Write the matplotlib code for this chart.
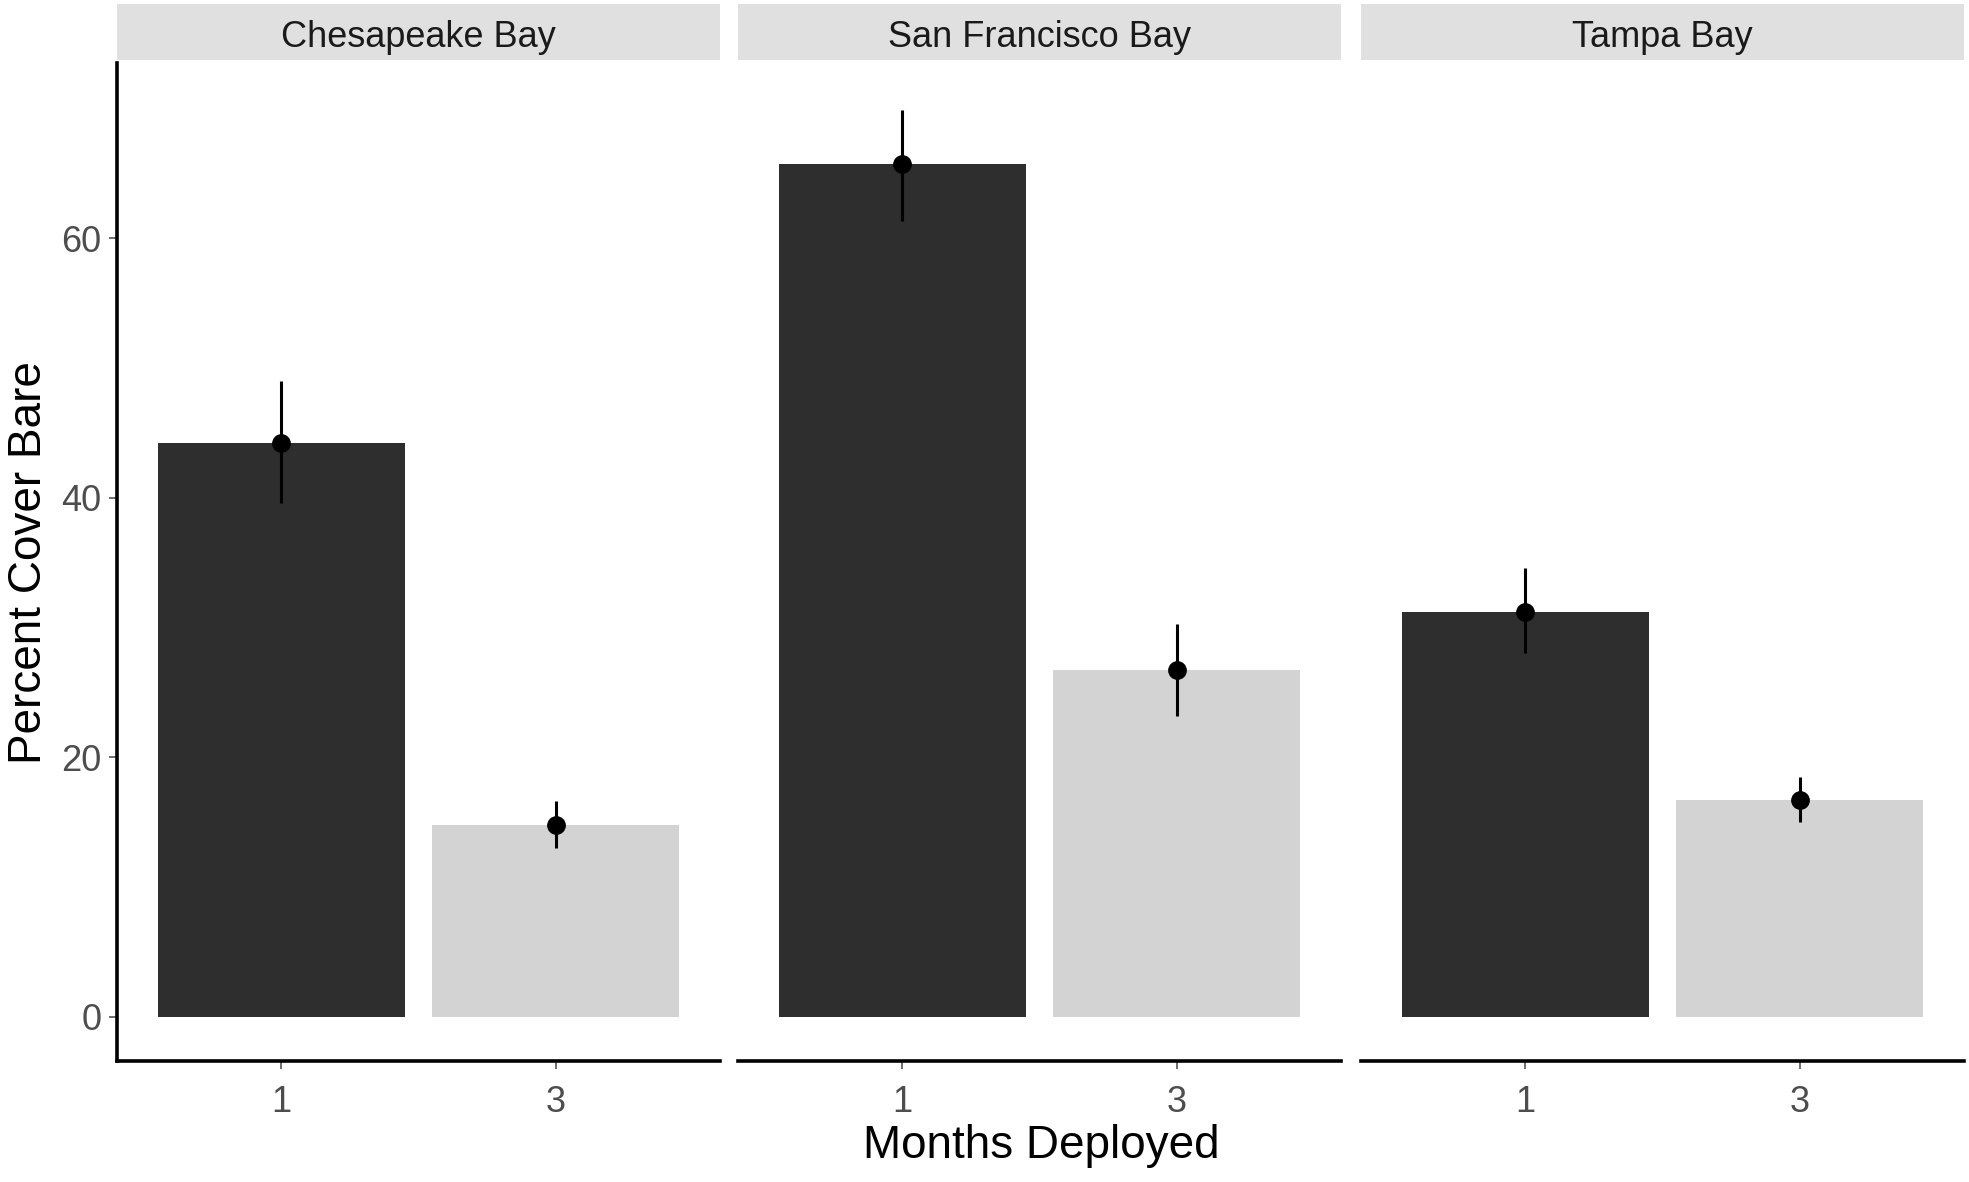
import matplotlib
matplotlib.use('Agg')
import matplotlib.pyplot as plt
from matplotlib import font_manager

# data
bays = ['Chesapeake Bay', 'San Francisco Bay', 'Tampa Bay']
months = ['1', '3']
mean_cover = [[44.2, 14.8], [65.7, 26.7], [31.2, 16.7]]
err_low = [[39.6, 13.0], [61.3, 23.2], [28.0, 15.0]]
err_high = [[49.0, 16.6], [69.9, 30.3], [34.6, 18.5]]
bar_colors = ['#2e2e2e', '#d3d3d3']
y_ticks = [0, 20, 40, 60]

names = {f.name for f in font_manager.fontManager.ttflist}
narrow = 'Liberation Sans Narrow' if 'Liberation Sans Narrow' in names else 'Liberation Sans'
plain = 'Liberation Sans'

fig = plt.figure(figsize=(19.69, 11.82), dpi=100)

W, H = 1969, 1182
lefts = [117, 738, 1361]
pw = 603
top, bottom = 63, 1061

for i, bay in enumerate(bays):
	ax = fig.add_axes([lefts[i]/W, 1-bottom/H, pw/W, (bottom-top)/H])
	xs = list(range(1, len(months)+1))
	ax.bar(xs, mean_cover[i], width=0.9, color=bar_colors, zorder=1)
	for j, x in enumerate(xs):
		ax.vlines(x, err_low[i][j], err_high[i][j], color='black', lw=2.2, zorder=3)
	ax.plot(xs, mean_cover[i], 'o', color='black', ms=12.5, zorder=4)
	ax.set_xlim(0.4, 2.6)
	ax.set_ylim(-3.4, 73.5)
	ax.set_xticks(xs)
	ax.set_xticklabels(months, fontsize=26, color='#4d4d4d', family=narrow)
	for s in ['top', 'right']:
		ax.spines[s].set_visible(False)
	ax.spines['bottom'].set_linewidth(2.6)
	ax.spines['left'].set_linewidth(2.6)
	ax.tick_params(axis='x', length=6, width=1.2, color='#555555', pad=11)
	if i == 0:
		ax.set_yticks(y_ticks)
		ax.set_yticklabels([str(v) for v in y_ticks], fontsize=26, color='#4d4d4d', family=narrow)
		ax.tick_params(axis='y', length=6, width=1.2, color='#555555', pad=5)
	else:
		ax.spines['left'].set_visible(False)
		ax.set_yticks([])

	# facet strip
	sx = fig.add_axes([lefts[i]/W, 1-60/H, pw/W, 56/H])
	sx.set_facecolor('#e0e0e0')
	sx.set_xticks([])
	sx.set_yticks([])
	for s in sx.spines.values():
		s.set_visible(False)
	sx.text(0.5, 0.4, bay, ha='center', va='center', fontsize=26,
		color='#1a1a1a', family=narrow, transform=sx.transAxes)

fig.text(29/W, 1-563/H, 'Percent Cover Bare', rotation=90, ha='center', va='center',
	fontsize=33, color='black', family=plain)
fig.text(1041/W, 1-1146/H, 'Months Deployed', ha='center', va='center',
	fontsize=33, color='black', family=narrow)

fig.savefig('out.png', dpi=100)
